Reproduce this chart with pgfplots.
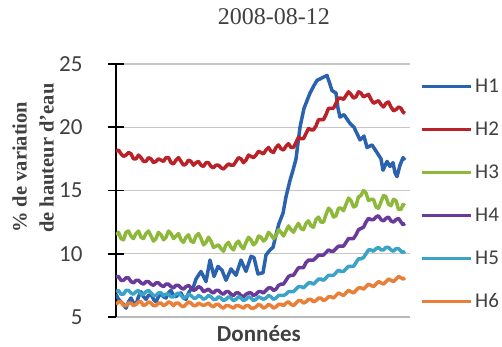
\documentclass[border=0pt]{standalone}
\usepackage{fontspec}
\setmainfont{Liberation Serif}
\newfontfamily\calibri{Carlito}
\usepackage{pgfplots}
\pgfplotsset{compat=1.18}
\definecolor{cH1}{HTML}{2A62AE}
\definecolor{cH2}{HTML}{B82228}
\definecolor{cH3}{HTML}{8DB83A}
\definecolor{cH4}{HTML}{6A3A9A}
\definecolor{cH5}{HTML}{3BA3C8}
\definecolor{cH6}{HTML}{E8803A}
\definecolor{txt}{HTML}{404040}
\begin{document}
\begin{tikzpicture}
\useasboundingbox (-116pt,-30pt) rectangle (386pt,317pt);
\begin{axis}[
  at={(0,0)}, anchor=south west,
  scale only axis, width=294pt, height=253pt,
  xmin=0, xmax=294, ymin=5, ymax=25,
  axis x line*=bottom, axis y line*=left,
  x axis line style={-, gray!55, line width=1.5pt},
  y axis line style={-, black, line width=1.6pt},
  xtick=\empty, ytick={5,10,15,20,25},
  ymajorgrids, grid style={gray!45, line width=1.2pt},
  tick align=center, major tick length=16pt,
  ytick style={black, line width=1.6pt},
  /pgf/number format/assume math mode=true,
  yticklabel style={font=\calibri\fontsize{23}{23}\selectfont, text=txt, xshift=-22pt},
  title={2008-08-12},
  title style={at={(axis description cs:0.537,1.162)}, anchor=center, font=\fontsize{24}{24}\selectfont, text=txt},
  xlabel={Données},
  xlabel style={at={(axis description cs:0.486,-0.066)}, anchor=center, inner sep=0pt, font=\calibri\bfseries\fontsize{23}{23}\selectfont, text=txt},
  ylabel={\% de variation\\de hauteur d'eau},
  ylabel style={at={(axis description cs:-0.282,0.628)}, anchor=center, rotate=0, align=left, font=\bfseries\fontsize{20.5}{27}\selectfont, text=txt},
  legend style={draw=none, fill=none, at={(axis description cs:1.0238,0.949)}, anchor=north west,
    font=\calibri\fontsize{21}{21}\selectfont, text=txt, row sep=27.8pt, column sep=3pt,
    nodes={inner sep=0pt}},
  legend cell align=left,
  legend image code/.code={\draw[#1, line width=3pt] (0pt,0pt) -- (49pt,0pt);},
  every axis plot/.append style={line width=3.5pt, line join=round, no marks},
]
\addplot[cH1] table {
0 6.8
2.5 6.4
5 6.2
7.5 6.0
10 5.7
12.5 6.2
15 6.5
17.5 6.1
20 6.0
22.5 6.6
25 7.0
27.5 6.6
30 6.4
32.5 6.7
35 6.8
37.5 6.4
40 6.2
42.5 6.6
45 6.9
47.5 6.6
50 6.5
52.5 6.9
55 7.1
57.5 6.7
60 6.6
62.5 6.8
65 6.9
67.5 6.5
70 6.4
72.5 6.9
75 7.2
77.5 7.4
80 8.0
85 8.6
90 7.8
94 9.5
98 8.2
102 9.0
106 8.7
110 7.9
115 8.8
120 8.3
125 9.5
130 8.6
135 9.8
138 9.7
142 8.4
147 8.5
150 9.9
154 10.3
157 10.5
160 11.5
163 12.4
167 13.2
170 14.5
174 15.8
177 16.6
180 17.5
184 20.0
188 21.5
194 22.7
198 23.3
201 23.7
206 23.9
211 24.1
214 23.4
216 22.9
220 22.7
222 21.5
224 20.8
228 21.0
234 20.3
238 20.0
244 19.0
248 19.3
251 18.4
256 18.6
261 18.0
265 17.5
267 16.6
271 17.3
274 16.9
277 17.2
279 16.4
281 16.1
284 17.0
287 17.6
289 17.4
};
\addlegendentry{H1}
\addplot[cH2] table {
0 18.1
2.5 18.2
5 17.9
7.5 17.7
10 17.8
12.5 18.0
15 17.9
17.5 17.5
20 17.5
22.5 17.8
25 17.6
27.5 17.3
30 17.3
32.5 17.6
35 17.5
37.5 17.2
40 17.3
42.5 17.5
45 17.4
47.5 17.3
50 17.6
52.5 17.6
55 17.2
57.5 17.1
60 17.4
62.5 17.6
65 17.3
67.5 17.0
70 17.1
72.5 17.4
75 17.3
77.5 17.0
80 17.2
82.5 17.3
85 17.0
87.5 16.9
90 17.2
92.5 17.2
95 16.9
97.5 16.8
100 17.0
102.5 17.0
105 16.8
107.5 16.7
110 16.9
112.5 17.1
115 17.0
117.5 17.0
120 17.3
122.5 17.6
125 17.5
127.5 17.2
130 17.4
132.5 17.8
135 17.7
137.5 17.6
140 17.8
142.5 18.1
145 18.0
147.5 17.9
150 18.2
152.5 18.4
155 18.1
157.5 18.0
160 18.4
162.5 18.6
165 18.3
167.5 18.2
170 18.5
172.5 18.7
175 18.4
177.5 18.4
180 18.8
182.5 19.2
185 19.1
187.5 19.1
190 19.5
192.5 19.9
195 19.8
197.5 19.8
200 20.1
202.5 20.6
205 20.6
207.5 20.6
210 21.0
212.5 21.5
215 21.5
217.5 21.5
220 21.9
222.5 22.3
225 22.3
227.5 22.2
230 22.5
232.5 22.8
235 22.6
237.5 22.3
240 22.4
242.5 22.8
245 22.7
247.5 22.4
250 22.5
252.5 22.6
255 22.2
257.5 21.9
260 22.0
262.5 22.1
265 21.8
267.5 21.6
270 21.9
272.5 22.0
275 21.6
277.5 21.3
280 21.4
282.5 21.6
285 21.5
287 21.2
289 21.1
};
\addlegendentry{H2}
\addplot[cH3] table {
0 11.5
2.5 11.7
5 11.2
7.5 11.1
10 11.7
12.5 11.8
15 11.4
17.5 11.2
20 11.6
22.5 11.8
25 11.3
27.5 11.2
30 11.6
32.5 11.8
35 11.4
37.5 11.0
40 11.2
42.5 11.7
45 11.5
47.5 11.1
50 11.3
52.5 11.8
55 11.6
57.5 11.2
60 11.4
62.5 11.6
65 11.1
67.5 10.9
70 11.3
72.5 11.5
75 11.0
77.5 10.9
80 11.4
82.5 11.6
85 11.2
87.5 10.7
90 10.9
92.5 11.3
95 11.0
97.5 10.5
100 10.6
102.5 10.7
105 10.4
107.5 10.2
110 10.7
112.5 10.9
115 10.5
117.5 10.3
120 10.8
122.5 11.0
125 10.6
127.5 10.4
130 10.9
132.5 11.3
135 11.1
137.5 10.7
140 10.9
142.5 11.4
145 11.3
147.5 11.0
150 11.2
152.5 11.7
155 11.5
157.5 11.2
160 11.4
162.5 11.9
165 11.7
167.5 11.4
170 11.8
172.5 12.2
175 11.9
177.5 11.7
180 12.1
182.5 12.4
185 12.0
187.5 11.9
190 12.4
192.5 12.6
195 12.2
197.5 12.1
200 12.7
202.5 12.9
205 12.5
207.5 12.5
210 13.1
212.5 13.6
215 13.4
217.5 12.9
220 13.0
222.5 13.6
225 13.6
227.5 13.4
230 13.9
232.5 14.4
235 14.2
237.5 13.7
240 13.8
242.5 14.5
245 14.6
247.5 15.0
250 14.8
252.5 14.2
255 14.3
257.5 14.3
260 13.7
262.5 13.6
265 14.1
267.5 14.6
270 14.5
272.5 13.9
275 13.8
277.5 14.3
280 14.2
282.5 13.5
285 13.5
287 13.9
289 13.8
};
\addlegendentry{H3}
\addplot[cH4] table {
0 8.2
2.5 8.2
5 7.9
7.5 7.9
10 8.1
12.5 8.1
15 7.8
17.5 7.7
20 7.9
22.5 7.9
25 7.7
27.5 7.6
30 7.8
32.5 7.8
35 7.6
37.5 7.5
40 7.7
42.5 7.7
45 7.5
47.5 7.4
50 7.6
52.5 7.6
55 7.4
57.5 7.3
60 7.5
62.5 7.5
65 7.3
67.5 7.2
70 7.4
72.5 7.5
75 7.3
77.5 7.1
80 7.2
82.5 7.4
85 7.3
87.5 7.0
90 7.1
92.5 7.2
95 7.0
97.5 6.9
100 7.1
102.5 7.1
105 6.9
107.5 6.8
110 7.0
112.5 7.0
115 6.8
117.5 6.7
120 6.9
122.5 6.9
125 6.7
127.5 6.6
130 6.8
132.5 6.9
135 6.9
137.5 6.7
140 6.8
142.5 7.0
145 7.0
147.5 6.9
150 7.1
152.5 7.3
155 7.3
157.5 7.1
160 7.2
162.5 7.5
165 7.6
167.5 7.6
170 7.9
172.5 8.2
175 8.3
177.5 8.3
180 8.6
182.5 8.9
185 8.9
187.5 8.9
190 9.3
192.5 9.5
195 9.5
197.5 9.5
200 9.7
202.5 9.9
205 9.9
207.5 9.9
210 10.1
212.5 10.3
215 10.2
217.5 10.2
220 10.4
222.5 10.6
225 10.6
227.5 10.6
230 10.9
232.5 11.2
235 11.2
237.5 11.2
240 11.5
242.5 11.9
245 12.0
247.5 12.1
250 12.5
252.5 12.8
255 12.7
257.5 12.7
260 12.9
262.5 13.0
265 12.7
267.5 12.6
270 12.8
272.5 12.9
275 12.6
277.5 12.5
280 12.7
282.5 12.8
285 12.5
287 12.3
289 12.4
};
\addlegendentry{H4}
\addplot[cH5] table {
0 7.0
2.5 7.1
5 6.8
7.5 6.8
10 7.1
12.5 7.1
15 6.9
17.5 6.8
20 7.0
22.5 7.1
25 6.8
27.5 6.8
30 7.0
32.5 7.1
35 6.9
37.5 6.7
40 6.7
42.5 6.9
45 6.9
47.5 6.7
50 6.8
52.5 6.8
55 6.6
57.5 6.6
60 6.8
62.5 6.9
65 6.7
67.5 6.5
70 6.6
72.5 6.8
75 6.7
77.5 6.5
80 6.5
82.5 6.7
85 6.6
87.5 6.4
90 6.5
92.5 6.7
95 6.6
97.5 6.4
100 6.4
102.5 6.6
105 6.5
107.5 6.3
110 6.4
112.5 6.6
115 6.5
117.5 6.3
120 6.4
122.5 6.6
125 6.5
127.5 6.3
130 6.4
132.5 6.6
135 6.5
137.5 6.3
140 6.4
142.5 6.6
145 6.5
147.5 6.4
150 6.5
152.5 6.7
155 6.6
157.5 6.4
160 6.5
162.5 6.7
165 6.7
167.5 6.7
170 6.8
172.5 7.0
175 7.0
177.5 7.0
180 7.2
182.5 7.4
185 7.4
187.5 7.3
190 7.5
192.5 7.7
195 7.7
197.5 7.6
200 7.8
202.5 8.0
205 8.0
207.5 7.9
210 8.1
212.5 8.3
215 8.3
217.5 8.3
220 8.5
222.5 8.7
225 8.6
227.5 8.6
230 8.8
232.5 9.0
235 9.0
237.5 9.0
240 9.3
242.5 9.6
245 9.6
247.5 9.7
250 10.0
252.5 10.3
255 10.3
257.5 10.2
260 10.4
262.5 10.5
265 10.3
267.5 10.3
270 10.5
272.5 10.5
275 10.3
277.5 10.2
280 10.4
282.5 10.4
285 10.2
287 10.1
289 10.2
};
\addlegendentry{H5}
\addplot[cH6] table {
0 6.0
2.5 6.2
5 6.2
7.5 5.9
10 5.9
12.5 6.1
15 6.1
17.5 5.9
20 6.0
22.5 6.2
25 6.2
27.5 5.9
30 6.0
32.5 6.2
35 6.1
37.5 5.9
40 5.9
42.5 6.1
45 6.1
47.5 5.9
50 6.0
52.5 6.2
55 6.1
57.5 5.9
60 6.1
62.5 6.1
65 5.9
67.5 5.8
70 6.0
72.5 6.2
75 6.1
77.5 5.9
80 5.9
82.5 6.1
85 6.0
87.5 5.9
90 6.0
92.5 6.1
95 5.9
97.5 5.8
100 6.0
102.5 6.0
105 5.8
107.5 5.7
110 5.9
112.5 5.9
115 5.8
117.5 5.7
120 5.9
122.5 5.9
125 5.8
127.5 5.7
130 5.9
132.5 5.9
135 5.7
137.5 5.7
140 5.8
142.5 6.0
145 5.9
147.5 5.7
150 5.8
152.5 6.0
155 5.9
157.5 5.7
160 5.8
162.5 6.0
165 6.0
167.5 5.9
170 6.1
172.5 6.2
175 6.0
177.5 5.9
180 6.1
182.5 6.3
185 6.3
187.5 6.1
190 6.2
192.5 6.4
195 6.4
197.5 6.2
200 6.3
202.5 6.5
205 6.5
207.5 6.3
210 6.4
212.5 6.6
215 6.6
217.5 6.5
220 6.7
222.5 6.9
225 6.8
227.5 6.7
230 6.9
232.5 7.1
235 7.0
237.5 6.9
240 7.1
242.5 7.3
245 7.3
247.5 7.2
250 7.4
252.5 7.6
255 7.5
257.5 7.4
260 7.6
262.5 7.8
265 7.7
267.5 7.6
270 7.8
272.5 8.0
275 7.9
277.5 7.8
280 8.0
282.5 8.2
285 8.1
287 8.0
289 8.1
};
\addlegendentry{H6}
\end{axis}
\end{tikzpicture}
\end{document}
